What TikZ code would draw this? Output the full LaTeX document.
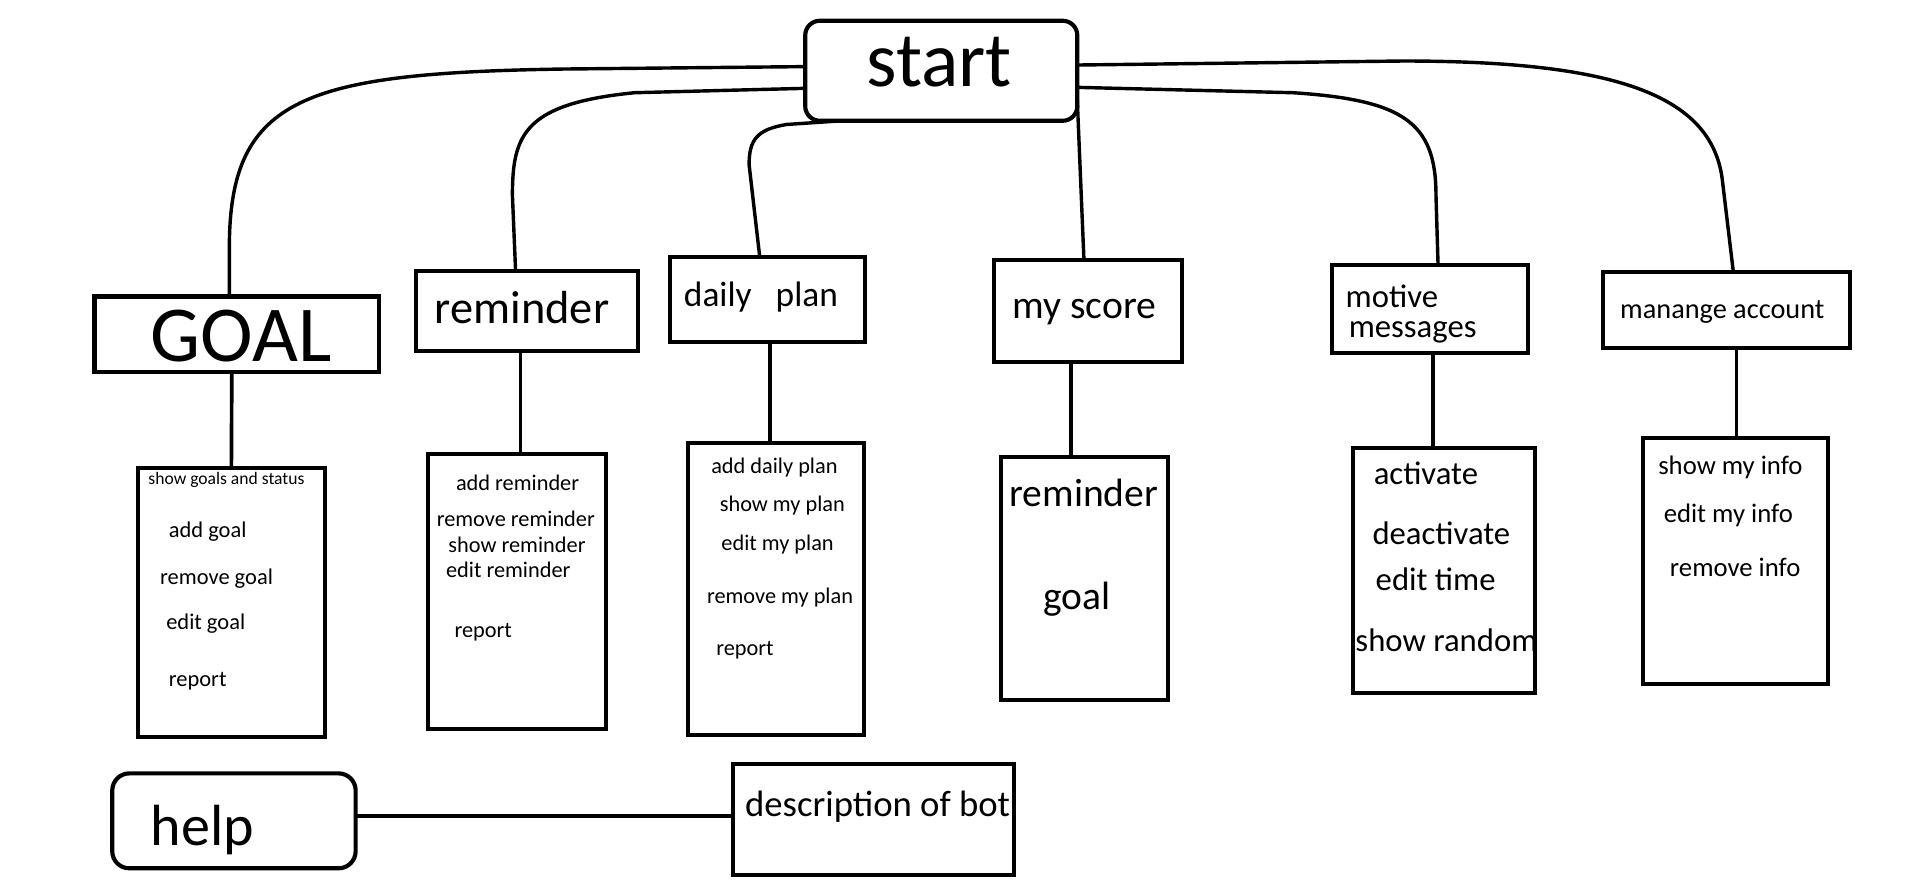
\documentclass[tikz,border=0pt]{standalone}
\usepackage{fontspec}
\setmainfont{Carlito}
\newcommand\fsz[1]{\fontsize{#1pt}{#1pt}\selectfont}
\tikzset{
  pbox/.style={draw, line width=3.4pt, inner sep=0pt, outer sep=0pt},
  lbox/.style={draw, line width=3.3pt, inner sep=0pt, outer sep=0pt},
  conn/.style={line width=2.8pt, line cap=round, line join=round},
  vconn/.style={line width=3pt},
  txt/.style={anchor=base west, inner sep=0pt, outer sep=0pt},
}
\begin{document}
\begin{tikzpicture}[x=1pt, y=-1pt]
\useasboundingbox[fill=white] (0,0) rectangle (1568,728);

% ---------- top level ----------
\node[pbox, rounded corners=12pt, minimum width=223pt, minimum height=82pt] (start) at (771.5,58) {};
\node[txt, font=\fsz{63.9}] (starttxt) at (710.2,70.5) {start};

\node[pbox, minimum width=233pt, minimum height=61.6pt] (goal) at (194,273.8) {};
\node[txt, font=\fsz{65}] (goaltxt) at (123.6,296.5) {GOAL};

\node[pbox, minimum width=182pt, minimum height=66pt] (rem) at (432,255) {};
\node[txt, font=\fsz{38}] (remtxt) at (356.5,265) {reminder};

\node[pbox, minimum width=160pt, minimum height=69.6pt] (dp) at (629,245.2) {};
\node[txt, font=\fsz{29}] (dptxt) at (560.6,251) {daily~~~plan};

\node[pbox, minimum width=154.5pt, minimum height=83.5pt] (ms) at (891.75,254.75) {};
\node[txt, font=\fsz{32.5}] (mstxt) at (830,261) {my score};

\node[pbox, minimum width=161pt, minimum height=72.6pt] (mm) at (1172,253.3) {};
\node[txt, font=\fsz{26.8}] (mmtxta) at (1103,252.2) {motive};
\node[txt, font=\fsz{26.8}] (mmtxtb) at (1105.5,277) {messages};

\node[pbox, minimum width=202pt, minimum height=62.8pt] (ma) at (1415,254.1) {};
\node[txt, font=\fsz{23.2}] (matxt) at (1328,261) {manange account};

% ---------- lists ----------
\node[lbox, minimum width=152.7pt, minimum height=220.5pt] (gl) at (189.65,494.15) {};
\node[txt, font=\fsz{14.4}] (gl1) at (121.7,397.5) {show goals and status};
\node[txt, font=\fsz{18.4}] (gl2) at (138.4,440.4) {add goal};
\node[txt, font=\fsz{18.4}] (gl3) at (131.3,478.7) {remove goal};
\node[txt, font=\fsz{18.4}] (gl4) at (136.3,515.6) {edit goal};
\node[txt, font=\fsz{18.4}] (gl5) at (138.4,562.8) {report};

\node[lbox, minimum width=145.9pt, minimum height=225.5pt] (rl) at (423.75,484.75) {};
\node[txt, font=\fsz{18.3}] (rl1) at (373.8,402.2) {add reminder};
\node[txt, font=\fsz{18.3}] (rl2) at (358,431.7) {remove reminder};
\node[txt, font=\fsz{18.3}] (rl3) at (367.6,453) {show reminder};
\node[txt, font=\fsz{18.3}] (rl4) at (365.6,473.2) {edit reminder};
\node[txt, font=\fsz{18.3}] (rl5) at (372.6,522.4) {report};

\node[lbox, minimum width=144.2pt, minimum height=239.7pt] (dl) at (635.9,482.65) {};
\node[txt, font=\fsz{18.3}] (dl1) at (583,388) {add daily plan};
\node[txt, font=\fsz{18.3}] (dl2) at (590,419.4) {show my plan};
\node[txt, font=\fsz{18.3}] (dl3) at (591.3,451.4) {edit my plan};
\node[txt, font=\fsz{18.3}] (dl4) at (579.5,495) {remove my plan};
\node[txt, font=\fsz{18.3}] (dl5) at (587.1,537.4) {report};

\node[lbox, minimum width=136.9pt, minimum height=199.5pt] (sl) at (888.95,474.05) {};
\node[txt, font=\fsz{32.4}] (sl1) at (827.5,414.8) {reminder};
\node[txt, font=\fsz{32.4}] (sl2) at (855.3,499.5) {goal};

\node[txt, font=\fsz{26.8}] (ml1) at (1126,397.5) {activate};
\node[txt, font=\fsz{26.8}] (ml2) at (1125,445.9) {deactivate};
\node[txt, font=\fsz{26.8}] (ml3) at (1127.6,484.4) {edit time};
\node[txt, font=\fsz{26.8}] (ml4) at (1111,533.6) {show random};
\node[lbox, minimum width=149.5pt, minimum height=200.8pt] (ml) at (1183.75,467.9) {};

\node[lbox, minimum width=152.1pt, minimum height=201.4pt] (al) at (1422.65,460) {};
\node[txt, font=\fsz{21.9}] (al1) at (1359.2,389.3) {show my info};
\node[txt, font=\fsz{21.9}] (al2) at (1363.7,428.4) {edit my info};
\node[txt, font=\fsz{21.9}] (al3) at (1368.8,472.7) {remove info};

% ---------- help ----------
\node[pbox, rounded corners=14pt, minimum width=199.5pt, minimum height=77.8pt] (help) at (191.75,672.8) {};
\node[txt, font=\fsz{47.6}] (helptxt) at (123.6,692.6) {help};
\node[pbox, minimum width=230.1pt, minimum height=91pt] (desc) at (715.85,671.7) {};
\node[txt, font=\fsz{30.1}] (desctxt) at (610.7,668.9) {description of bot};

% ---------- connectors from start ----------
\draw[conn] ([yshift=3.4pt]start.west) -- (460,56.6)
  .. controls (250,60) and (189,80) .. (188,200) -- ([xshift=-6pt]goal.north);
\draw[conn] ([yshift=-14.4pt]start.west) -- (520,76)
  .. controls (430,85) and (420,110) .. (420,160) -- ([xshift=-9.4pt]rem.north);
\draw[conn] ([xshift=30pt]start.south west) -- (645,102)
  .. controls (620,106) and (614,115) .. (614,135) -- ([xshift=-6.3pt]dp.north);
\draw[conn] ([yshift=-24pt]start.east) -- ([xshift=-3.3pt]ms.north);
\draw[conn] ([yshift=-13.6pt]start.east) -- (1060,76)
  .. controls (1150,82) and (1177,100) .. (1177,160) -- ([xshift=6.7pt]mm.north);
\draw[conn] ([yshift=4.7pt]start.east) -- (1150,50)
  .. controls (1330,50) and (1405,80) .. (1412,150) -- ([xshift=5.7pt]ma.north);

% ---------- connectors to lists ----------
\draw[vconn] ([xshift=-4pt]goal.south) -- (gl.north);
\draw[vconn] ([xshift=-5.4pt]rem.south) -- ([xshift=2.85pt]rl.north);
\draw[vconn] ([xshift=2pt]dp.south) -- ([xshift=-4.9pt]dl.north);
\draw[vconn] ([xshift=-13.75pt]ms.south) -- ([xshift=-10.95pt]sl.north);
\draw[vconn] ([xshift=2.6pt]mm.south) -- ([xshift=-9.15pt]ml.north);
\draw[vconn] ([xshift=8.4pt]ma.south) -- ([xshift=0.75pt]al.north);

\draw[vconn] ([yshift=3.8pt]help.east) -- ([yshift=3.8pt]help.east -| desc.west);
\end{tikzpicture}
\end{document}
